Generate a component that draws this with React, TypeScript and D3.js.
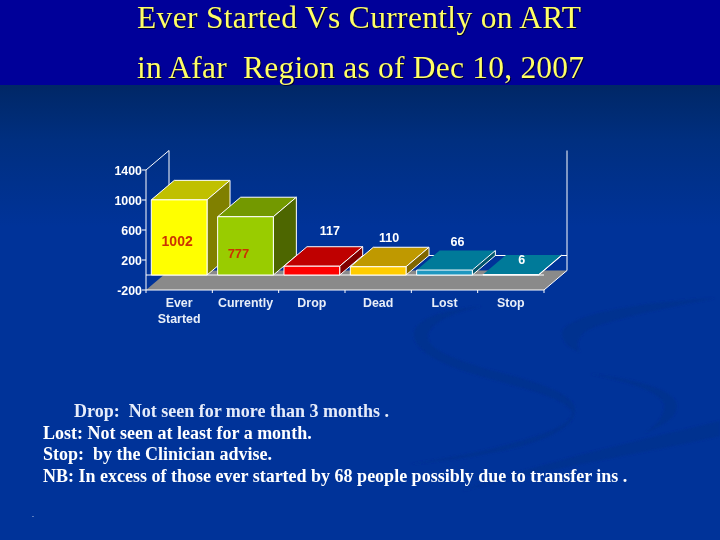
import React from "react";
import * as d3 from "d3";

const categories = ["Ever", "Currently", "Drop", "Dead", "Lost", "Stop"];
const secondLine = ["Started", "", "", "", "", ""];
const values = [1002, 777, 117, 110, 66, 6];
const valueLabels = ["1002", "777", "117", "110", "66", "6"];
const yTicks = [1400, 1000, 600, 200, -200];
const frontColors = ["#ffff00", "#99cc00", "#ff0000", "#ffcc00", "#1f97c0", "#1f97c0"];
const topColors = ["#c0c000", "#739900", "#bf0000", "#bf9900", "#007a99", "#007a99"];
const sideColors = ["#808000", "#4d6600", "#800000", "#806600", "#00556b", "#00556b"];
const labelColors = ["#cc3300", "#cc3300", "#ffffff", "#ffffff", "#ffffff", "#ffffff"];
const labelSizes = [14, 13, 12.5, 12.5, 12.5, 12.5];
const labelDx = [-2, -7, 18, 11, 13, 11];
const labelDy = [46, 41, -31, -25, -24, -11];
const titleLines = ["Ever Started Vs Currently on ART", "in Afar  Region as of Dec 10, 2007"];
const noteLines = [
  "Drop:  Not seen for more than 3 months .",
  "Lost: Not seen at least for a month.",
  "Stop:  by the Clinician advise.",
  "NB: In excess of those ever started by 68 people possibly due to transfer ins .",
];
const noteX = [74, 43, 43, 43];
const noteY = [417, 439, 460, 482];

const x = d3.scaleBand<string>().domain(categories).range([146, 544]).paddingInner(0.16).paddingOuter(0.08);
const y = d3.scaleLinear().domain([-200, 1400]).range([290, 170]);
const bandStep = x.step();
const DX = 23;
const DY = -19.5;
const AXIS = "Liberation Sans, Arial, sans-serif";
const SERIF = "Liberation Serif, Times New Roman, serif";

const poly = (pts: [number, number][]) => (d3.line()(pts) as string) + "Z";

export default function App() {
  const x0 = x.range()[0];
  const x1 = x.range()[1];
  const y0 = y(0);
  const yb = y(-200);
  const yt = y(1400);
  return (
    <svg width={720} height={540} style={{ position: "absolute", left: 0, top: 0 }}>
      <defs>
        <linearGradient id="bg" x1="0" y1="0" x2="0" y2="1">
          <stop offset="0.157" stopColor="#002766" />
          <stop offset="0.26" stopColor="#002f80" />
          <stop offset="0.42" stopColor="#003399" />
          <stop offset="1" stopColor="#003399" />
        </linearGradient>
        <filter id="soft"><feGaussianBlur stdDeviation="0.35" /></filter>
        <filter id="swoosh"><feGaussianBlur stdDeviation="1.2" /></filter>
      </defs>
      <rect width={720} height={540} fill="url(#bg)" />
      <g fill="#003090" filter="url(#swoosh)">
        <path d="M482,306C440,310 412,320 414,336C416,352 440,364 480,376C530,390 565,398 572,412C575,430 500,450 410,464C500,456 578,438 575,408C572,392 530,380 490,370C450,358 425,348 428,334C432,322 455,312 482,306Z" />
        <path d="M715,298C640,302 562,315 562,334C563,344 572,350 580,352C574,342 578,330 610,322C650,310 690,304 715,298Z" />
        <path d="M590,374C630,382 660,392 664,404C666,416 655,426 645,433C668,424 680,414 676,402C670,388 630,378 590,374Z" />
        <path d="M720,421C650,438 540,462 462,491C540,470 650,452 720,436Z" />
      </g>
      <rect width={720} height={85} fill="#000099" />

      <g filter="url(#soft)">
        {titleLines.map((t, i) => (
          <g key={i} fontFamily={SERIF} fontSize={31.5} style={{ whiteSpace: "pre" }}>
            <text x={138} y={[28, 78][i] + 1} fill="#000033" xmlSpace="preserve" textLength={[444, 447][i]}>{t}</text>
            <text x={137} y={[28, 78][i]} fill="#ffff66" xmlSpace="preserve" textLength={[444, 447][i]}>{t}</text>
          </g>
        ))}
      </g>

      <path d={poly([[x0, yb], [x1, yb], [x1 + DX, yb + DY], [x0 + DX, yb + DY]])} fill="#8a8a8a" />
      <g stroke="#ffffff" strokeWidth={1} fill="none">
        <path d={`M${x0},${yb}V${yt}L${x0 + DX},${yt + DY}V${yb + DY}`} />
        <path d={`M${x0},${yb}H${x1}L${x1 + DX},${yb + DY}V${yt + DY}`} />
        <path d={`M${x0 + DX},${y0 + DY}H${x1 + DX}`} />
        <path d={`M${x0},${y0}H${x1}`} />
      </g>

      {categories.map((c, i) => {
        const l = x(c) as number;
        const r = l + x.bandwidth();
        const t = y(values[i]);
        return (
          <g key={c} stroke="#ffffff" strokeWidth={1} strokeLinejoin="round">
            <path d={poly([[l, t], [r, t], [r + DX, t + DY], [l + DX, t + DY]])} fill={topColors[i]} stroke={i > 3 ? "none" : "#ffffff"} />
            <path d={poly([[r, t], [r + DX, t + DY], [r + DX, y0 + DY], [r, y0]])} fill={sideColors[i]} />
            <path d={poly([[l, t], [r, t], [r, y0], [l, y0]])} fill={frontColors[i]} />
          </g>
        );
      })}

      <g stroke="#ffffff" strokeWidth={1}>
        {yTicks.map(v => <line key={v} x1={x0 - 4} x2={x0} y1={y(v)} y2={y(v)} />)}
        {d3.range(categories.length + 1).map(i => (
          <line key={i} x1={x0 + i * bandStep} x2={x0 + i * bandStep} y1={yb} y2={yb + 3} />
        ))}
      </g>

      <g fontFamily={AXIS} fontWeight={700} fontSize={12.4} filter="url(#soft)">
        {yTicks.map(v => (
          <text key={v} x={142} y={y(v) + 4.5} textAnchor="end" fill="#ffffff">{v}</text>
        ))}
        {categories.map((c, i) => {
          const cx = (x(c) as number) + x.bandwidth() / 2;
          return (
            <g key={c}>
              <text x={cx} y={307} textAnchor="middle" fill="#e8eef8">{c}</text>
              {secondLine[i] && <text x={cx} y={323} textAnchor="middle" fill="#e8eef8">{secondLine[i]}</text>}
              <text
                x={cx + labelDx[i]}
                y={y(values[i]) + labelDy[i]}
                textAnchor="middle"
                fill={labelColors[i]}
                fontSize={labelSizes[i]}
              >
                {valueLabels[i]}
              </text>
            </g>
          );
        })}
      </g>

      <g fontFamily={SERIF} fontWeight={700} fontSize={18} fill="#ffffff" filter="url(#soft)">
        {noteLines.map((t, i) => (
          <text key={i} x={noteX[i]} y={noteY[i]} xmlSpace="preserve" fill={i === 0 ? "#e6ecfa" : "#ffffff"}>{t}</text>
        ))}
        <text x={32} y={517} fontSize={8} fontWeight={400}>.</text>
      </g>
    </svg>
  );
}
